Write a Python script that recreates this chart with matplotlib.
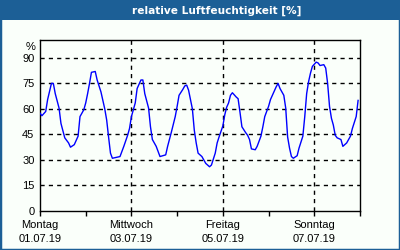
import matplotlib
matplotlib.use("Agg")
import matplotlib.pyplot as plt
from matplotlib.patches import Rectangle

# data: hours since 01.07.19 00:00, relative humidity in %
hours = [0, 1, 3, 4, 6, 7, 8, 10, 11, 13, 14, 15, 16, 18, 20, 21, 23, 24, 25, 26,
         27, 29, 30, 32, 34, 35, 36, 37, 38, 40, 42, 44, 46, 47, 48, 50, 51, 53, 54, 55,
         57, 58, 59, 61, 62, 63, 66, 67, 69, 71, 72, 73, 75, 76, 77, 78, 80, 81, 82, 83,
         85, 87, 89, 90, 92, 93, 94, 96, 97, 98, 99, 100, 101, 103, 104, 105, 106, 108, 109, 110,
         111, 113, 114, 116, 117, 118, 120, 121, 122, 124, 125, 126, 128, 129, 130, 131, 132, 133, 135, 136,
         138, 139, 140, 141, 142, 143, 145, 146, 147, 149, 150, 151, 152, 153, 154, 155, 156, 158, 159, 161,
         163, 164, 166, 167]
humidity = [57.5, 56, 58.5, 65.5, 75, 75, 69, 60.5, 51.5, 43, 41.5, 40, 37.5, 39, 44, 55.5, 59.5, 63.5, 69, 75,
            81.5, 82, 77, 70, 60, 53.5, 43.5, 34, 31, 31.5, 32, 38, 44.5, 48.5, 55.5, 63.5, 72, 77, 77, 69,
            60.5, 49.5, 42, 38, 35, 32, 33, 38, 46.5, 55.5, 61.5, 68, 71.5, 73.5, 74, 71, 60, 47.5, 40, 34,
            32, 28, 26, 27, 34, 40, 43.5, 50, 56.5, 61, 63.5, 68, 69.5, 67, 66, 58, 49.5, 46, 44.5, 42,
            36.5, 36, 38, 44, 49.5, 55.5, 61.5, 65.5, 68, 73, 75, 72, 68, 60.5, 43.5, 37, 32, 31, 32.5, 37,
            44, 55.5, 69, 76, 81, 85, 87.5, 87, 85.5, 86, 84, 75, 61.5, 54.5, 50.5, 44.5, 43, 42, 38, 40,
            44, 48.5, 55.5, 65]

title = "relative Luftfeuchtigkeit [%]"
y_ticks = [0, 15, 30, 45, 60, 75, 90]
day_ticks = [0, 24, 48, 72, 96, 120, 144, 168]
label_ticks = [0, 48, 96, 144]
tick_labels = ["Montag\n01.07.19", "Mittwoch\n03.07.19", "Freitag\n05.07.19", "Sonntag\n07.07.19"]

W, H = 400, 250
bg = "#fafffa"
blue = "#1c5f96"

fig = plt.figure(figsize=(W / 100, H / 100), dpi=100, facecolor=bg)
plt.rcParams['font.family'] = ['Liberation Sans', 'DejaVu Sans']

# border and title bar
fig.patches.append(Rectangle((0, 0), 1, 1, transform=fig.transFigure, fill=False,
                             edgecolor=blue, linewidth=2.5, zorder=0))
fig.patches.append(Rectangle((0, 1 - 20 / H), 1, 20 / H, transform=fig.transFigure,
                             facecolor=blue, edgecolor="none", zorder=1))
fig.text(217 / W, 1 - 10.5 / H, title, color="white", fontsize=7.6, fontweight="bold",
         family=["DejaVu Sans"], ha="center", va="center")

ax = fig.add_axes([40 / W, 1 - 211 / H, 320 / W, 171 / H], facecolor=bg)
ax.plot(hours, humidity, color="#0000ff", linewidth=1.0, zorder=3)
ax.set_xlim(0, 168)
ax.set_ylim(0, 100.5)

ax.set_yticks(y_ticks)
ax.set_yticklabels([str(v) for v in y_ticks], fontsize=8)
ax.tick_params(axis="y", length=0, pad=4)
ax.set_xticks(day_ticks)
ax.set_xticklabels(["" for _ in day_ticks])
ax.tick_params(axis="x", length=3.5, width=1, direction="out", color="black")
for t, lab in zip(label_ticks, tick_labels):
    ax.annotate(lab, xy=(t, 0), xycoords="data", xytext=(0, -9), textcoords="offset pixels",
                ha="center", va="top", fontsize=8, linespacing=1.55)

for v in y_ticks[1:]:
    ax.axhline(v, color="black", linewidth=1, linestyle=(0, (3, 3)), zorder=2)
for t in label_ticks[1:]:
    ax.axvline(t, color="black", linewidth=1, linestyle=(0, (3, 3)), zorder=2)

for s in ax.spines.values():
    s.set_color("black")
    s.set_linewidth(1)

ax.annotate("%", xy=(0, 1), xycoords="axes fraction", xytext=(-4, -7),
            textcoords="offset pixels", ha="right", va="center", fontsize=8)

fig.savefig("out.png", dpi=100, facecolor=bg)
